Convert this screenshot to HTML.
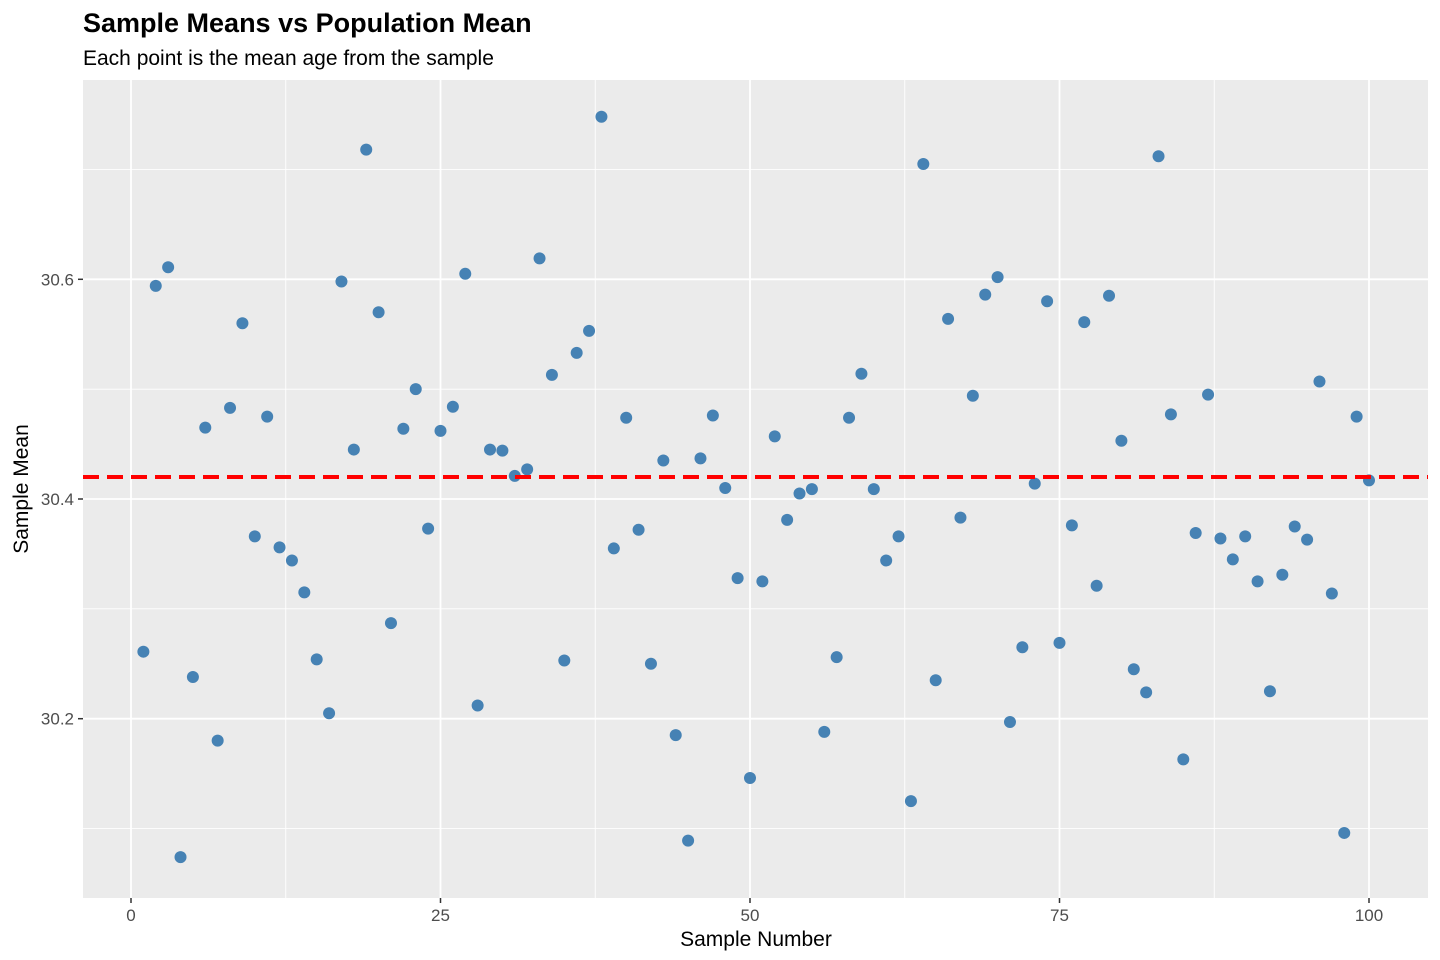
<!DOCTYPE html>
<html><head><meta charset="utf-8"><style>
html,body{margin:0;padding:0;background:#fff;}
svg{display:block;font-family:"Liberation Sans",sans-serif;}
</style></head><body>
<svg id="chart" width="1440" height="960" xmlns="http://www.w3.org/2000/svg">
<text x="83" y="32" font-size="27" font-weight="bold" fill="#000">Sample Means vs Population Mean</text>
<text x="83" y="65" font-size="21" fill="#000">Each point is the mean age from the sample</text>
<rect x="83" y="80" width="1345" height="818" fill="#EBEBEB"/>
<g id="grid"></g>
<g id="marks"></g>
<g id="axes"></g>
<text x="756" y="946" font-size="21" text-anchor="middle" fill="#000">Sample Number</text>
<text transform="translate(28,489) rotate(-90)" font-size="21" text-anchor="middle" fill="#000">Sample Mean</text>
</svg>
<script>
const sampleMeans = [30.261,30.594,30.611,30.074,30.238,30.465,30.180,30.483,30.560,30.366,
30.475,30.356,30.344,30.315,30.254,30.205,30.598,30.445,30.718,30.570,
30.287,30.464,30.500,30.373,30.462,30.484,30.605,30.212,30.445,30.444,
30.421,30.427,30.619,30.513,30.253,30.533,30.553,30.748,30.355,30.474,
30.372,30.250,30.435,30.185,30.089,30.437,30.476,30.410,30.328,30.146,
30.325,30.457,30.381,30.405,30.409,30.188,30.256,30.474,30.514,30.409,
30.344,30.366,30.125,30.705,30.235,30.564,30.383,30.494,30.586,30.602,
30.197,30.265,30.414,30.580,30.269,30.376,30.561,30.321,30.585,30.453,
30.245,30.224,30.712,30.477,30.163,30.369,30.495,30.364,30.345,30.366,
30.325,30.225,30.331,30.375,30.363,30.507,30.314,30.096,30.475,30.417];
const populationMean = 30.42;
const xTicks = [0,25,50,75,100];
const xMinor = [12.5,37.5,62.5,87.5];
const yTicks = [30.2,30.4,30.6];
const yMinor = [30.1,30.3,30.5,30.7];
const yTickLabels = ["30.2","30.4","30.6"];

const xs = v => 131 + v*(1369-131)/100;
const ys = v => 499 - (v-30.4)*1098.5;
const NS = "http://www.w3.org/2000/svg";
function mk(tag, attrs, parent){const e=document.createElementNS(NS,tag);for(const k in attrs)e.setAttribute(k,attrs[k]);parent.appendChild(e);return e;}
const grid=document.getElementById('grid'), marks=document.getElementById('marks'), axes=document.getElementById('axes');
yMinor.forEach(v=>{const l=mk('line',{x1:83,x2:1428,y1:ys(v),y2:ys(v),stroke:'#fff','stroke-width':0.9},grid);

});
xMinor.forEach(v=>{const l=mk('line',{x1:xs(v),x2:xs(v),y1:80,y2:898,stroke:'#fff','stroke-width':0.9},grid);

});
yTicks.forEach((v,i)=>{const l=mk('line',{x1:83,x2:1428,y1:ys(v),y2:ys(v),stroke:'#fff','stroke-width':1.8},grid);


const t=mk('line',{x1:78,x2:83,y1:ys(v),y2:ys(v),stroke:'#333','stroke-width':1.5},axes);


const tx=mk('text',{x:74,y:ys(v)+6,'font-size':17,'text-anchor':'end',fill:'#4D4D4D'},axes);tx.textContent=yTickLabels[i];

});
xTicks.forEach(v=>{const l=mk('line',{x1:xs(v),x2:xs(v),y1:80,y2:898,stroke:'#fff','stroke-width':1.8},grid);


const t=mk('line',{x1:xs(v),x2:xs(v),y1:898,y2:903,stroke:'#333','stroke-width':1.5},axes);


const tx=mk('text',{x:xs(v),y:921,'font-size':17,'text-anchor':'middle',fill:'#4D4D4D'},axes);tx.textContent=String(v);

});
sampleMeans.forEach((v,i)=>{const c=mk('circle',{cx:xs(i+1),cy:ys(v),r:6,fill:'#4682B4'},marks);

});
const ml=mk('line',{x1:83,x2:1428,y1:ys(populationMean),y2:ys(populationMean),stroke:'#FF0000','stroke-width':4,'stroke-dasharray':'16 8'},marks);


</script>
</body></html>
